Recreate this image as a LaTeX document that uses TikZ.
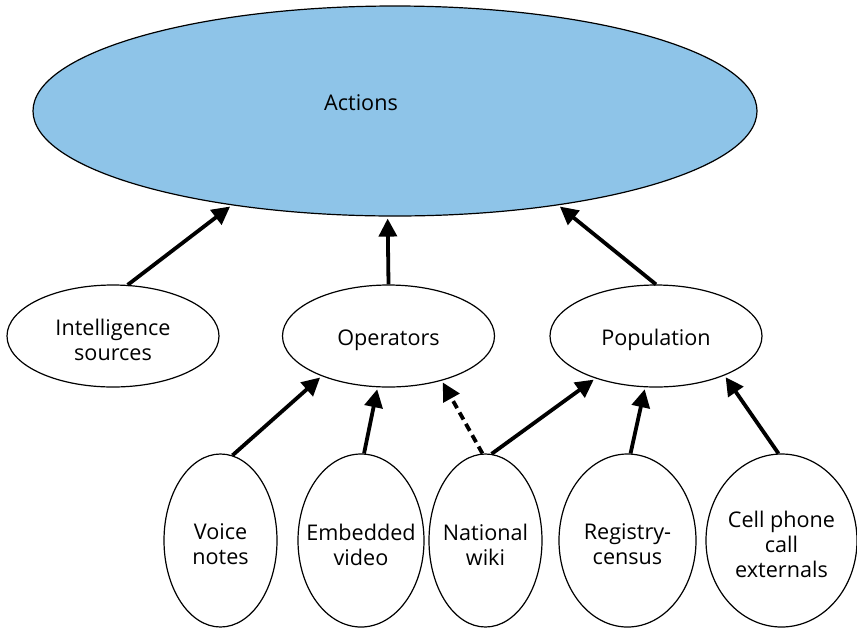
\documentclass[tikz,border=0pt]{standalone}
\usepackage{fontspec}
\setmainfont{Open Sans}
\usepackage{tikz}
\usetikzlibrary{arrows.meta}
\usetikzlibrary{shapes.geometric}
\definecolor{actionblue}{HTML}{8EC4E8}

\begin{document}
\begin{tikzpicture}[x=0.5pt, y=-0.5pt,
  oval/.style={draw=black, line width=0.6pt, ellipse, inner sep=0pt, fill=white},
  txt/.style={align=center, font=\fontsize{10.8}{12.5}\selectfont, yshift=-2pt},
  link/.style={line width=1.9pt, -{Triangle[length=9pt, width=9pt]}, shorten >=1pt}]
\useasboundingbox (0,0) rectangle (857,628);
\node [oval, fill=actionblue, minimum width=362pt, minimum height=105pt,
  label={[txt, xshift=-17pt, yshift=6pt]center:Actions}] (actions) at (395,111) {};
\node [oval, minimum width=106pt, minimum height=51pt, label={[txt]center:Intelligence\\sources}] (intel) at (113,336) {};
\node [oval, minimum width=106pt, minimum height=51pt, label={[txt]center:Operators}] (operators) at (388.5,336) {};
\node [oval, minimum width=106pt, minimum height=51pt, label={[txt]center:Population}] (population) at (656,336) {};
\node [oval, minimum width=56.5pt, minimum height=86.5pt, label={[txt]center:Voice\\notes}] (voice) at (220.5,540.5) {};
\node [oval, minimum width=63pt, minimum height=86.5pt, label={[txt]center:Embedded\\video}] (embedded) at (361,540.5) {};
\node [oval, minimum width=56.5pt, minimum height=86.5pt, label={[txt]center:National\\wiki}] (national) at (485.5,540.5) {};
\node [oval, minimum width=68.5pt, minimum height=86.5pt, label={[txt]center:Registry-\\census}] (registry) at (627.5,540.5) {};
\node [oval, minimum width=75.5pt, minimum height=86.5pt, label={[txt]center:Cell phone\\call\\externals}] (cell) at (781.5,540.5) {};
\draw [link] (intel.74) -- (actions.210);
\draw [link] (operators.north) -- (actions.266);
\draw [link] (population.north) -- (actions.330);
\draw [link] (voice.82) -- (operators.211);
\draw [link] (embedded.88) -- (operators.258);
\draw [link, dash pattern=on 4pt off 2.5pt] (national.92) -- (operators.320);
\draw [link] (national.86) -- (population.215);
\draw [link] (registry.88) -- (population.258);
\draw [link] (cell.92) -- (population.330);
\end{tikzpicture}
\end{document}
